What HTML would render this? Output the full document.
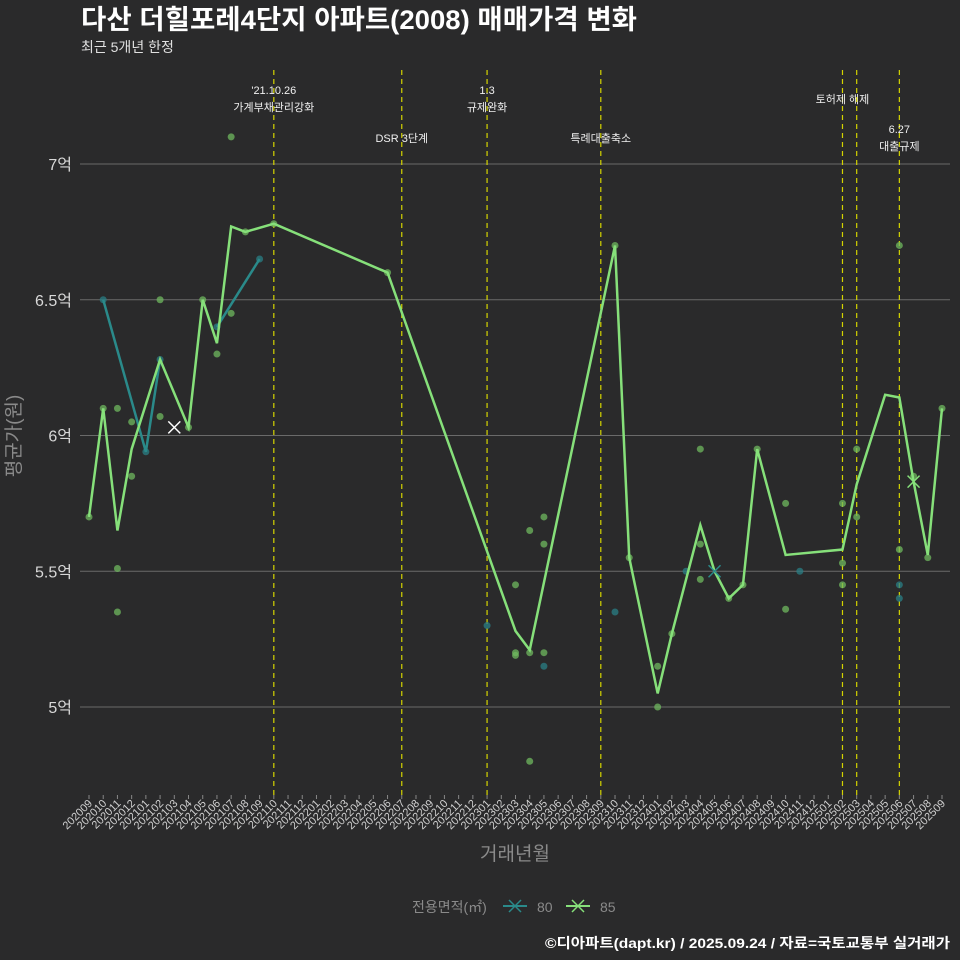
<!DOCTYPE html>
<html><head><meta charset="utf-8"><style>
body{margin:0;background:#2a2a2b;}
svg{display:block;font-family:"Liberation Sans","Noto Sans CJK KR",sans-serif;}
</style></head><body>
<svg id="c" width="960" height="960" viewBox="0 0 960 960">
<rect width="960" height="960" fill="#2a2a2b"/>
<text x="81" y="29" font-size="27" font-weight="bold" fill="#ffffff" textLength="556" lengthAdjust="spacingAndGlyphs">다산 더힐포레4단지 아파트(2008) 매매가격 변화</text>
<text x="81" y="52" font-size="14" fill="#e0e0e0">최근 5개년 한정</text>
<text transform="translate(20,436) rotate(-90)" text-anchor="middle" font-size="19" fill="#8a8a8a">평균가(원)</text>
<text x="515" y="860" text-anchor="middle" font-size="19" fill="#8a8a8a">거래년월</text>
<g>
<text x="412" y="912" font-size="14" fill="#8a8a8a">전용면적(㎡)</text>
<g><line x1="503" y1="906" x2="527" y2="906" stroke="#2a8a8a" stroke-width="2"/><path d="M509 900L521 912M509 912L521 900" stroke="#2a8a8a" stroke-width="1.5"/><text x="537" y="912" font-size="14" fill="#8a8a8a">80</text></g>
<g><line x1="566" y1="906" x2="590" y2="906" stroke="#86e07a" stroke-width="2"/><path d="M572 900L584 912M572 912L584 900" stroke="#86e07a" stroke-width="1.5"/><text x="600" y="912" font-size="14" fill="#8a8a8a">85</text></g>
</g>
<text x="950" y="948" text-anchor="end" font-size="14" font-weight="bold" fill="#ffffff" textLength="405" lengthAdjust="spacingAndGlyphs">©디아파트(dapt.kr) / 2025.09.24 / 자료=국토교통부 실거래가</text>
</svg>
<script>
const months=[];for(let y=2020,m=9;y<2025||(y===2025&&m<=9);){months.push(y+String(m).padStart(2,'0'));m++;if(m>12){m=1;y++;}}
const yTicks=[5,5.5,6,6.5,7];
const yTickLabels=['5억','5.5억','6억','6.5억','7억'];
const line85Months=['202009','202010','202011','202012','202102','202104','202105','202106','202107','202108','202110','202206','202303','202304','202310','202311','202401','202402','202404','202405','202406','202407','202408','202410','202502','202503','202505','202506','202507','202508','202509'];
const line85Values=[5.7,6.1,5.65,5.95,6.28,6.03,6.5,6.34,6.77,6.75,6.78,6.6,5.28,5.21,6.7,5.55,5.05,5.27,5.67,5.5,5.4,5.45,5.95,5.56,5.58,5.82,6.15,6.14,5.83,5.56,6.1];
const line80aMonths=['202010','202101','202102'];
const line80aValues=[6.5,5.94,6.28];
const line80bMonths=['202106','202109'];
const line80bValues=[6.4,6.65];
const pts85Months=['202009','202010','202011','202011','202011','202012','202012','202102','202102','202104','202105','202106','202107','202107','202108','202110','202206','202303','202303','202303','202304','202304','202304','202305','202305','202305','202310','202311','202401','202401','202402','202404','202404','202404','202406','202407','202408','202410','202410','202502','202502','202502','202503','202503','202506','202506','202507','202508','202509'];
const pts85Values=[5.7,6.1,6.1,5.51,5.35,6.05,5.85,6.5,6.07,6.03,6.5,6.3,7.1,6.45,6.75,6.78,6.6,5.45,5.2,5.19,5.2,5.65,4.8,5.7,5.6,5.2,6.7,5.55,5.15,5.0,5.27,5.95,5.6,5.47,5.4,5.45,5.95,5.75,5.36,5.75,5.53,5.45,5.95,5.7,6.7,5.58,5.85,5.55,6.1];
const pts80Months=['202010','202101','202102','202106','202109','202301','202305','202310','202403','202411','202506','202506'];
const pts80Values=[6.5,5.94,6.28,6.4,6.65,5.3,5.15,5.35,5.5,5.5,5.45,5.4];
const eventMonths=['202110','202207','202301','202309','202502','202503','202506'];
const eventLabels=[["'21.10.26","가계부채관리강화"],["DSR 3단계"],["1.3","규제완화"],["특례대출축소"],["토허제 해제"],[],["6.27","대출규제"]];
const eventLabelY=[90,138,90,138,99,0,129];
const X0=89,X1=942,Y0=707,YS=271.5;
function xs(m){return X0+(X1-X0)*months.indexOf(m)/(months.length-1);}
function ys(v){return Y0-(v-5)*YS;}
const svg=document.getElementById('c');const NS='http://www.w3.org/2000/svg';
function mk(t,a,p){const e=document.createElementNS(NS,t);for(const k in a)e.setAttribute(k,a[k]);(p||svg).appendChild(e);return e;}
yTicks.forEach((v,i)=>{
 const g=mk('line',{x1:80,x2:950,y1:ys(v),y2:ys(v),stroke:'#6a6a6a','stroke-width':1});
 
 
 const t=mk('text',{x:72,y:ys(v)+6,'text-anchor':'end','font-size':16,fill:'#d8d8d8'});t.textContent=yTickLabels[i];
 
 
});
months.forEach(m=>{
 const x=xs(m);
 const tk=mk('line',{x1:x,x2:x,y1:795,y2:799,stroke:'#888','stroke-width':1});
 
 
 const t=mk('text',{transform:`translate(${x+4},${804}) rotate(-45)`,'text-anchor':'end','font-size':11,fill:'#d0d0d0'});t.textContent=m;
 
 
});
eventMonths.forEach((m,i)=>{
 const x=xs(m);
 const l=mk('line',{x1:x,x2:x,y1:70,y2:795,stroke:'#d4d400','stroke-width':1.2,'stroke-dasharray':'5,4'});
 
 
 eventLabels[i].forEach((s,j)=>{
  const t=mk('text',{x:x,y:eventLabelY[i]+j*17+4,'text-anchor':'middle','font-size':11,fill:'#f0f0f0'});t.textContent=s;
  
  
 });
});
function pts(ms,vs,col,name){ms.forEach((m,i)=>{const c=mk('circle',{cx:xs(m),cy:ys(vs[i]),r:3.5,fill:col,'fill-opacity':0.75});
 
 });}
pts(pts85Months,pts85Values,'#6fb85f','point-85');
pts(pts80Months,pts80Values,'#2a7f86','point-80');
function line(ms,vs,col,name){const p=mk('polyline',{points:ms.map((m,i)=>xs(m)+','+ys(vs[i])).join(' '),fill:'none',stroke:col,'stroke-width':2.5,'stroke-linejoin':'miter'});
 
 }
line(line80aMonths,line80aValues,'#2a8a8a','line-80');
line(line80bMonths,line80bValues,'#2a8a8a','line-80');
line(line85Months,line85Values,'#86e07a','line-85');
const markMonths=['202103','202405','202507'];
const markValues=[6.03,5.5,5.83];
const markColors=['#ffffff','#2a8a8a','#86e07a'];
markMonths.forEach((m,i)=>{const x=xs(m),y=ys(markValues[i]);
 const p=mk('path',{d:`M${x-6} ${y-6}L${x+6} ${y+6}M${x-6} ${y+6}L${x+6} ${y-6}`,stroke:markColors[i],'stroke-width':1.5});
 
 });
</script>
</body></html>
